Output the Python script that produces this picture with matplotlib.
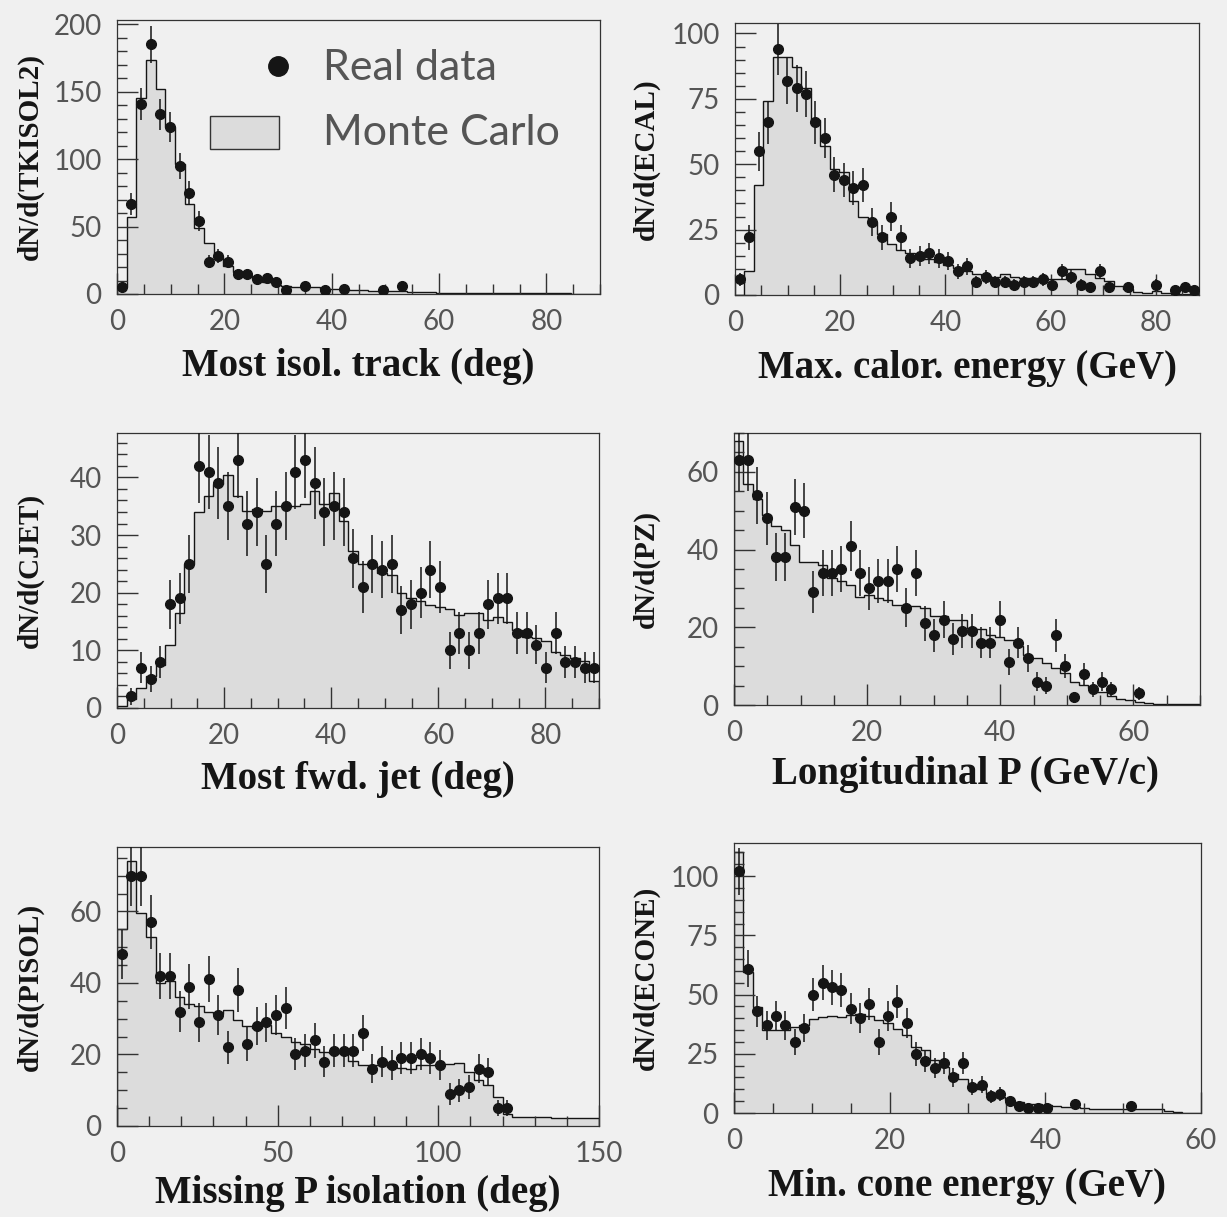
import numpy as np
import matplotlib
matplotlib.use("Agg")
import matplotlib.pyplot as plt
from matplotlib.patches import Rectangle
from matplotlib.lines import Line2D
from matplotlib.ticker import MultipleLocator

# ---- data (MC histogram + real data per bin) ----
# most isolated track, 0-90 deg, 50 bins
trk_mc = [5, 57, 145, 173, 152, 124, 96, 67, 49, 38, 28, 21, 16, 13, 11, 9, 7, 6, 5, 5,
          5, 4, 4, 3.5, 3, 3, 2.5, 2.5, 2, 2, 1.5, 1.5, 1.2, 1, 1, 1, 0.8, 0.6, 0.6, 0.5,
          0.5, 0.5, 0.5, 0.5, 0.5, 0.5, 0.5, 0.3, 0, 0]
trk_data = [5, 67, 141, 185, 133, 124, 95, 75, 54, 24, 28, 24, 15, 15, 11, 12, 9, 3, 0, 6,
            0, 3, 0, 4, 0, 0, 0, 3, 0, 6] + [0] * 20

# max calorimeter energy, 0-88.2 GeV, 49 bins
cal_mc = [0, 9, 42, 74, 91, 91, 87, 79, 67, 57, 48, 47, 36, 30, 28, 23.5, 19.6, 17.3, 16, 14,
          13.7, 12.8, 11.6, 10.3, 9, 8.1, 7.4, 7, 8.1, 7, 6.6, 6.6, 6.6, 6, 6, 10, 10, 8.1,
          6.6, 5.3, 3.4, 2.4, 1.1, 0.9, 1.5, 0.9, 0.5, 0.5, 0.5]
cal_data = [6, 22, 55, 66, 94, 82, 79, 77, 66, 60, 46, 44, 41, 42, 28, 22, 30, 22, 14, 15,
            16, 14, 13, 9, 11, 5, 7, 5, 5, 4, 5, 5, 6, 4, 9, 7, 4, 3, 9, 3, 0, 3, 0, 0, 4,
            0, 2, 3, 2]

# most forward jet, 0-90 deg, 50 bins
jet_mc = [0.3, 1.5, 3.5, 5.5, 7.5, 11, 16.5, 25, 34, 36.8, 38.8, 40.5, 36.8, 34.2, 34.5,
          34.2, 35, 35, 35, 35.3, 37.6, 35.3, 37.3, 32.4, 27.2, 25, 25, 23.4, 23.1, 19.9,
          19.1, 18.5, 17.9, 17.6, 17.1, 16.2, 16.5, 16.5, 15.3, 15.7, 15, 13.6, 12.4, 12.1,
          11.6, 9.8, 9.2, 8.7, 8.2, 4.6]
jet_data = [0, 2, 7, 5, 8, 18, 19, 25, 42, 41, 39, 35, 43, 32, 34, 25, 32, 35, 41, 43,
            39, 34, 35, 34, 26, 21, 25, 24, 25, 17, 18, 20, 24, 21, 10, 13, 10, 13, 18, 19,
            19, 13, 13, 11, 7, 13, 8, 8, 7, 7]

# longitudinal momentum, 0-70 GeV/c, 50 bins
pz_mc = [68, 57, 53, 49, 46, 45, 41.3, 36.7, 36.7, 36.1, 32.7, 31.8, 31, 27.9, 28.4, 27.5,
         27.1, 25.8, 25.4, 25.4, 25, 22.8, 22.8, 21.9, 21.9, 19.8, 19.6, 18.1, 17.6, 16.8,
         15.1, 12.9, 12, 10.8, 9.5, 8.2, 6, 5.2, 4.3, 3.4, 2.4, 1.5, 1.3, 0.9, 0.4, 0.3,
         0.3, 0.3, 0.3, 0.3]
pz_data = [63, 63, 54, 48, 38, 38, 51, 50, 29, 34, 34, 35, 41, 34, 30, 32, 32, 35, 25, 34,
           21, 18, 22, 17, 19, 19, 16, 16, 22, 11, 16, 12, 6, 5, 18, 10, 2, 8, 4, 6,
           4, 0, 0, 3, 0, 0, 0, 0, 0, 0]

# missing momentum isolation, 0-150 deg, 50 bins
iso_mc = [55, 74, 59.5, 52.7, 40, 40.5, 36.1, 34.2, 33.5, 31.9, 31.4, 32.4, 29.6, 27.9, 27.3,
          28.2, 26, 24.9, 23.5, 22.9, 21.4, 20.6, 20.3, 20.3, 18.2, 17, 17, 17, 16.6, 16.1,
          15.8, 17, 17, 17.3, 17.3, 17.7, 15.2, 12.8, 11.6, 8.2, 3.3, 2.6, 2.4, 2.4, 2.4,
          2.1, 2.1, 2.1, 2.1, 2.3]
iso_data = [48, 70, 70, 57, 42, 42, 32, 39, 29, 41, 31, 22, 38, 23, 28, 29, 31, 33, 20, 21,
            24, 18, 21, 21, 21, 26, 16, 18, 17, 19, 19, 20, 19, 17, 9, 10, 11, 16, 15, 5,
            5, 0, 0, 0, 0, 0, 0, 0, 0, 0]

# minimum cone energy, 0-60 GeV, 50 bins
cone_mc = [110, 59.6, 44.8, 35.2, 35.2, 35.2, 36.3, 37, 39.9, 40.6, 41, 40.6, 41.3, 42, 41,
           39.2, 38, 35.6, 32.8, 27.9, 26.5, 22.3, 19.4, 16.6, 14.5, 11.7, 10.3, 7.9, 6.8,
           5.4, 4.6, 3.9, 3.9, 3.2, 3, 2.5, 2.5, 2.3, 1.8, 1.5, 1.5, 1.5, 1.5, 1.5, 1.5,
           1.5, 1, 0.5, 0, 0]
cone_data = [102, 61, 43, 37, 41, 37, 30, 36, 50, 55, 53, 52, 44, 40, 46, 30, 41, 47, 38, 25,
             22, 19, 21, 15, 21, 11, 12, 7, 8, 5, 3, 2, 2, 2, 0, 0, 4, 0, 0, 0,
             0, 0, 3, 0, 0, 0, 0, 0, 0, 0]

# ---- style ----
BG = "#f0f0f0"
FILL = "#dcdcdc"
INK = "#151515"
FRAME = "#333333"
TICKTXT = "#555555"
W, H = 1227, 1217
SERIF = ["Liberation Serif", "DejaVu Serif"]

plt.rcParams["font.family"] = ["Lato", "DejaVu Sans"]

# (mc, data, hist range, xlim, ylim, x ticks, y ticks, labels, box px, label pos px)
panels = [
    dict(mc=trk_mc, data=trk_data, rng=(0, 90), xlim=(0, 90), ylim=(0, 203),
         xt=(20, 5), yt=(50, 10), ylab="dN/d(TKISOL2)", xlab="Most isol. track (deg)",
         box=(117, 20, 600, 294), ylx=30, xlx=358, xly=376),
    dict(mc=cal_mc, data=cal_data, rng=(0, 88.2), xlim=(0, 88.2), ylim=(0, 104),
         xt=(20, 5), yt=(25, 5), ylab="dN/d(ECAL)", xlab="Max. calor. energy (GeV)",
         box=(735, 23, 1199, 295), ylx=646, xlx=967, xly=378),
    dict(mc=jet_mc, data=jet_data, rng=(0, 90), xlim=(0, 90), ylim=(0, 47.7),
         xt=(20, 5), yt=(10, 2), ylab="dN/d(CJET)", xlab="Most fwd. jet (deg)",
         box=(117, 433, 599, 708), ylx=30, xlx=358, xly=789),
    dict(mc=pz_mc, data=pz_data, rng=(0, 70), xlim=(0, 70), ylim=(0, 70),
         xt=(20, 5), yt=(20, 5), ylab="dN/d(PZ)", xlab="Longitudinal P (GeV/c)",
         box=(734, 433, 1200, 705), ylx=646, xlx=966, xly=784),
    dict(mc=iso_mc, data=iso_data, rng=(0, 150), xlim=(0, 150), ylim=(0, 78),
         xt=(50, 10), yt=(20, 5), ylab="dN/d(PISOL)", xlab="Missing P isolation (deg)",
         box=(117, 847, 599, 1126), ylx=30, xlx=358, xly=1203),
    dict(mc=cone_mc, data=cone_data, rng=(0, 60), xlim=(0, 60), ylim=(0, 114),
         xt=(20, 5), yt=(25, 5), ylab="dN/d(ECONE)", xlab="Min. cone energy (GeV)",
         box=(734, 843, 1201, 1113), ylx=646, xlx=967, xly=1196),
]

fig = plt.figure(figsize=(W / 100, H / 100), dpi=100, facecolor=BG)

for p in panels:
    l, t, r, b = p["box"]
    ax = fig.add_axes([l / W, 1 - b / H, (r - l) / W, (b - t) / H])
    ax.set_facecolor(BG)

    mc = np.asarray(p["mc"], float)
    edges = np.linspace(p["rng"][0], p["rng"][1], len(mc) + 1)
    centers = 0.5 * (edges[:-1] + edges[1:])
    bw = edges[1] - edges[0]

    ax.stairs(mc, edges, baseline=0, fill=True, color=FILL, lw=0)
    ax.stairs(mc, edges, baseline=0, color=INK, lw=1.0)

    d = np.asarray(p["data"], float)
    m = d > 0
    ax.errorbar(centers[m], d[m], yerr=np.sqrt(d[m]), xerr=0.3 * bw, fmt="o",
                ms=7, color=INK, elinewidth=1.1, capsize=0, zorder=3)

    ax.set_xlim(*p["xlim"])
    ax.set_ylim(*p["ylim"])
    ax.xaxis.set_major_locator(MultipleLocator(p["xt"][0]))
    ax.xaxis.set_minor_locator(MultipleLocator(p["xt"][1]))
    ax.yaxis.set_major_locator(MultipleLocator(p["yt"][0]))
    ax.yaxis.set_minor_locator(MultipleLocator(p["yt"][1]))
    ax.tick_params(which="both", direction="in", top=False, right=False,
                   color=FRAME, width=1.0, labelsize=20, labelcolor=TICKTXT)
    ax.tick_params(which="major", length=15)
    ax.tick_params(which="minor", length=7)
    ax.tick_params(axis="y", pad=11)
    ax.tick_params(axis="x", pad=11)
    for s in ax.spines.values():
        s.set_color(FRAME)
        s.set_linewidth(0.9)

    yc = (t + b) / 2
    fig.text(p["ylx"] / W, 1 - yc / H, p["ylab"], rotation=90, ha="center", va="center",
             fontsize=21, family=SERIF, weight="bold", color=INK)
    fig.text(p["xlx"] / W, 1 - p["xly"] / H, p["xlab"], ha="center", va="baseline",
             fontsize=28, family=SERIF, weight="bold", color=INK)

# legend drawn by hand in the first panel
fig.add_artist(Line2D([278 / W], [1 - 66 / H], marker="o", ms=14, color=INK,
                      transform=fig.transFigure))
fig.add_artist(Rectangle((210 / W, 1 - 149 / H), 69 / W, 33 / H, transform=fig.transFigure,
                         facecolor=FILL, edgecolor=FRAME, lw=1.0))
fig.text(323 / W, 1 - 68 / H, "Real data", ha="left", va="center", fontsize=31, color="#555555")
fig.text(323 / W, 1 - 133 / H, "Monte Carlo", ha="left", va="center", fontsize=31, color="#555555")

fig.savefig("out.png", dpi=100, facecolor=BG)
